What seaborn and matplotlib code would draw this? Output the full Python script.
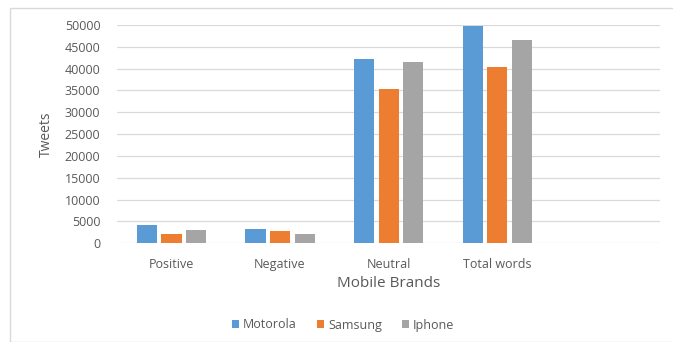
import matplotlib
matplotlib.use("Agg")
import matplotlib.pyplot as plt
from matplotlib.patches import Rectangle
import seaborn as sns
import pandas as pd

categories = ["Positive", "Negative", "Neutral", "Total words"]
brands = ["Motorola", "Samsung", "Iphone"]
motorola = [4200, 3200, 42300, 49700]
samsung = [2100, 2800, 35300, 40300]
iphone = [3000, 2000, 41500, 46600]
y_ticks = [0, 5000, 10000, 15000, 20000, 25000, 30000, 35000, 40000, 45000, 50000]

colors = ["#5B9BD5", "#ED7D31", "#A5A5A5"]
text_color = "#595959"

rows = []
for brand, vals in zip(brands, [motorola, samsung, iphone]):
    for cat, v in zip(categories, vals):
        rows.append({"Category": cat, "Brand": brand, "Tweets": v})
df = pd.DataFrame(rows)

sns.set_theme(style="white")
plt.rcParams["font.family"] = ["Open Sans", "DejaVu Sans"]

fig = plt.figure(figsize=(6.73, 3.42), dpi=100)
ax = fig.add_axes([0.174, 0.289, 0.807, 0.638])

sns.barplot(data=df, x="Category", y="Tweets", hue="Brand", order=categories,
            hue_order=brands, palette=colors, width=0.68, gap=0.18,
            saturation=1, linewidth=0, ax=ax, zorder=3)

ax.set_xlim(-0.5, 4.5)
ax.set_ylim(0, 50000)
ax.set_yticks(y_ticks)
ax.set_yticklabels([str(t) for t in y_ticks])
ax.yaxis.grid(True, color="#D9D9D9", linewidth=0.9, zorder=0)
ax.set_axisbelow(True)
for s in ax.spines.values():
    s.set_visible(False)
ax.tick_params(axis="both", length=0, colors=text_color, labelsize=9)
ax.tick_params(axis="y", pad=12)
ax.tick_params(axis="x", pad=11)
ax.set_xlabel("Mobile Brands", color=text_color, fontsize=11, labelpad=3)
ax.set_ylabel("Tweets", color=text_color, fontsize=10, labelpad=8)

ax.legend(loc="center", bbox_to_anchor=(0.51, 1 - 325 / 342),
          bbox_transform=fig.transFigure, ncol=3, frameon=False,
          fontsize=9, handlelength=0.6, handleheight=0.6,
          handletextpad=0.3, columnspacing=1.6, labelcolor=text_color)

fig.patches.append(Rectangle((10 / 673, 0), 1.2, 1 - 8 / 342,
                             transform=fig.transFigure, fill=False,
                             edgecolor="#D9D9D9", linewidth=1.0))

fig.savefig("out.png", dpi=100)
